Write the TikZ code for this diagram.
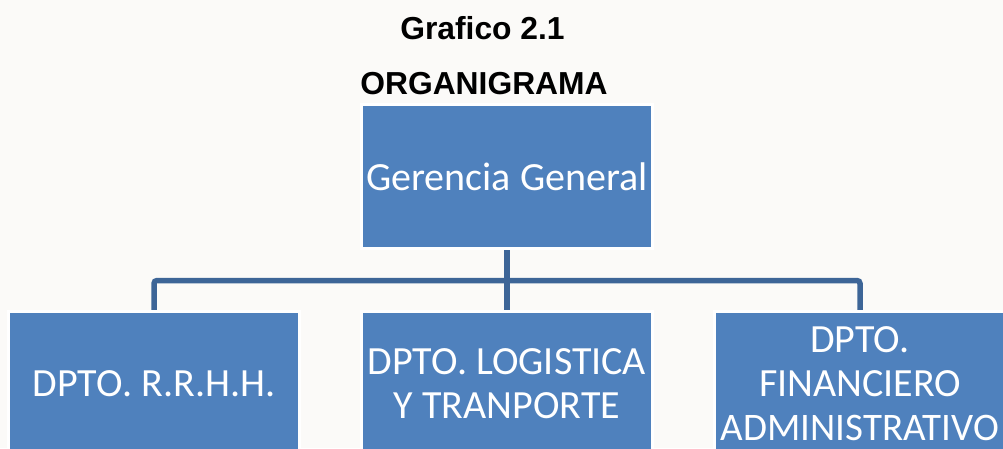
\documentclass[tikz,border=0pt]{standalone}
\usepackage{fontspec}
\setmainfont{Carlito}
\newfontfamily\titlefont{Liberation Sans}
\usetikzlibrary{backgrounds}
\definecolor{boxblue}{HTML}{4F81BD}
\definecolor{connblue}{HTML}{3D6597}
\definecolor{bgc}{HTML}{FBFAF8}
\tikzset{
  orgbox/.style={draw=white, line width=3pt, fill=boxblue, inner sep=0pt, outer sep=0pt,
    minimum width=291pt, minimum height=144pt, text=white, align=center,
    font=\fontsize{40}{44}\selectfont},
  conn/.style={draw=connblue, line width=5.5pt, rounded corners=3pt},
  ttl/.style={font=\titlefont\bfseries\fontsize{31.8}{36}\selectfont, anchor=base, inner sep=0pt}
}
\begin{document}
\begin{tikzpicture}[x=1pt,y=-1pt]
\useasboundingbox (0,0) rectangle (1003,448);
\clip (0,0) rectangle (1003,448);
\node[ttl] (t1) at (482.5,39) {Grafico 2.1};
\node[ttl] (t2) at (484,94) {ORGANIGRAMA};
\node[orgbox] (top) at (507,176.5) {Gerencia General};
\node[orgbox] (left) at (154,383.5) {DPTO. R.R.H.H.};
\node[orgbox] (mid) at (507,383.5) {DPTO. LOGISTICA\\Y TRANPORTE};
\node[orgbox] (right) at (860,383.5) {DPTO.\\FINANCIERO\\{\fontsize{39}{44}\selectfont ADMINISTRATIVO}};
\coordinate (hub) at (507,280.5);
\begin{scope}[on background layer]
\fill[bgc] (0,0) rectangle (1003,448);
\draw[conn] (left.north) |- (hub) -| (right.north);
\draw[conn] (top.south) -- (mid.north);
\end{scope}
\end{tikzpicture}
\end{document}
